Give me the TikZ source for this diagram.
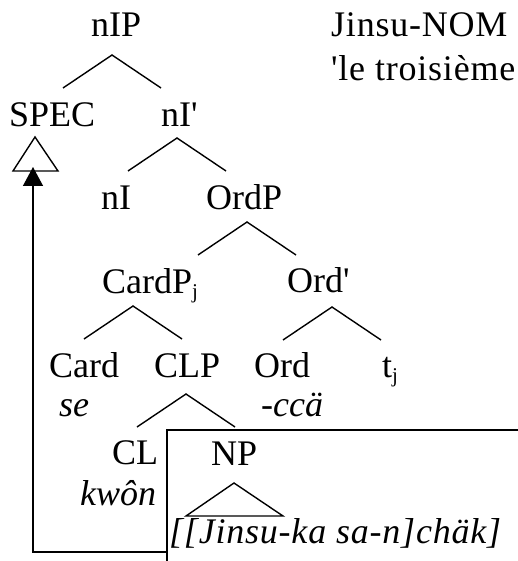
\documentclass[tikz,border=0pt]{standalone}
\usepackage{fontspec}
\setmainfont{Liberation Serif}[Ligatures=TeXOff]
\usetikzlibrary{arrows.meta,calc}
\newcommand{\subj}{\raisebox{-5pt}{\fontsize{21}{21}\selectfont j}}
\begin{document}
\begin{tikzpicture}[x=1pt,y=-1pt,
  lbl/.style={font=\fontsize{36}{40}\selectfont, inner sep=0pt, anchor=base west},
  itl/.style={font=\fontsize{36}{40}\selectfont\itshape, inner sep=0pt, anchor=base west},
  spaced/.style={font=\fontsize{36}{40}\selectfont\addfontfeature{LetterSpace=2.2}, inner sep=0pt, anchor=base west},
  ln/.style={line width=1.4pt, line join=miter},
  wedge/.style={line width=1.4pt}]
\useasboundingbox (0,0) rectangle (518,561);
% tree labels
\node[lbl] (nIP) at (91,37) {nIP};
\node[lbl] (SPEC) at (9,127) {SPEC};
\node[lbl] (nIbar) at (161,127) {nI'};
\node[lbl] (nI) at (101,209) {nI};
\node[lbl] (OrdP) at (206,209) {OrdP};
\node[lbl] (CardP) at (102,293) {CardP\subj};
\node[lbl] (Ordbar) at (287,292) {Ord'};
\node[lbl] (Card) at (49,377) {Card};
\node[lbl] (CLP) at (154,377) {CLP};
\node[lbl] (Ord) at (254,377) {Ord};
\node[lbl] (tj) at (382,377) {t\subj};
\node[itl] (se) at (59,416) {se};
\node[itl] (cca) at (261,416) {-ccä};
\node[lbl] (CL) at (112,464) {CL};
\node[itl] (kwon) at (80,505) {kwôn};
\node[lbl] (NP) at (211,465) {NP};
\node[spaced, font=\fontsize{36}{40}\selectfont\itshape\addfontfeature{LetterSpace=2.2}] (str) at (169,543) {[[Jinsu-ka sa-n]chäk]};
\node[spaced] (gl1) at (331,37) {Jinsu-NOM};
\node[spaced] (gl2) at (331,81) {'le troisième};
% wedges
\coordinate (aNIP) at (112,55);
\coordinate (aNIbar) at (177,138);
\coordinate (aOrdP) at (247,222);
\coordinate (aCardP) at (133,306);
\coordinate (aOrdbar) at (332,307);
\coordinate (aCLP) at (186,394);
\foreach \a in {aNIP,aNIbar,aOrdP,aCardP,aOrdbar,aCLP}{
  \draw[wedge] ($(\a)+(-49,33)$) -- (\a) -- ($(\a)+(49,33)$);
}
% triangles
\coordinate (tSPEC) at (35,137);
\draw[ln] (tSPEC) -- ++(23,34) -- ++(-45,0) -- cycle;
\coordinate (tNP) at (234,483);
\draw[ln] (tNP) -- ++(49,33) -- ++(-97,0) -- cycle;
% box
\coordinate (boxBL) at (167,575);
\coordinate (boxTL) at (167,430);
\coordinate (boxTR) at (530,430);
\draw[ln] (boxBL) -- (boxTL) -- (boxTR);
% movement arrow
\coordinate (mvStart) at (167,552);
\coordinate (mvCorner) at (33,552);
\coordinate (mvEnd) at (33,167);
\draw[ln, -{Triangle[width=20pt,length=19pt]}] (mvStart) -- (mvCorner) -- (mvEnd);
\end{tikzpicture}
\end{document}
